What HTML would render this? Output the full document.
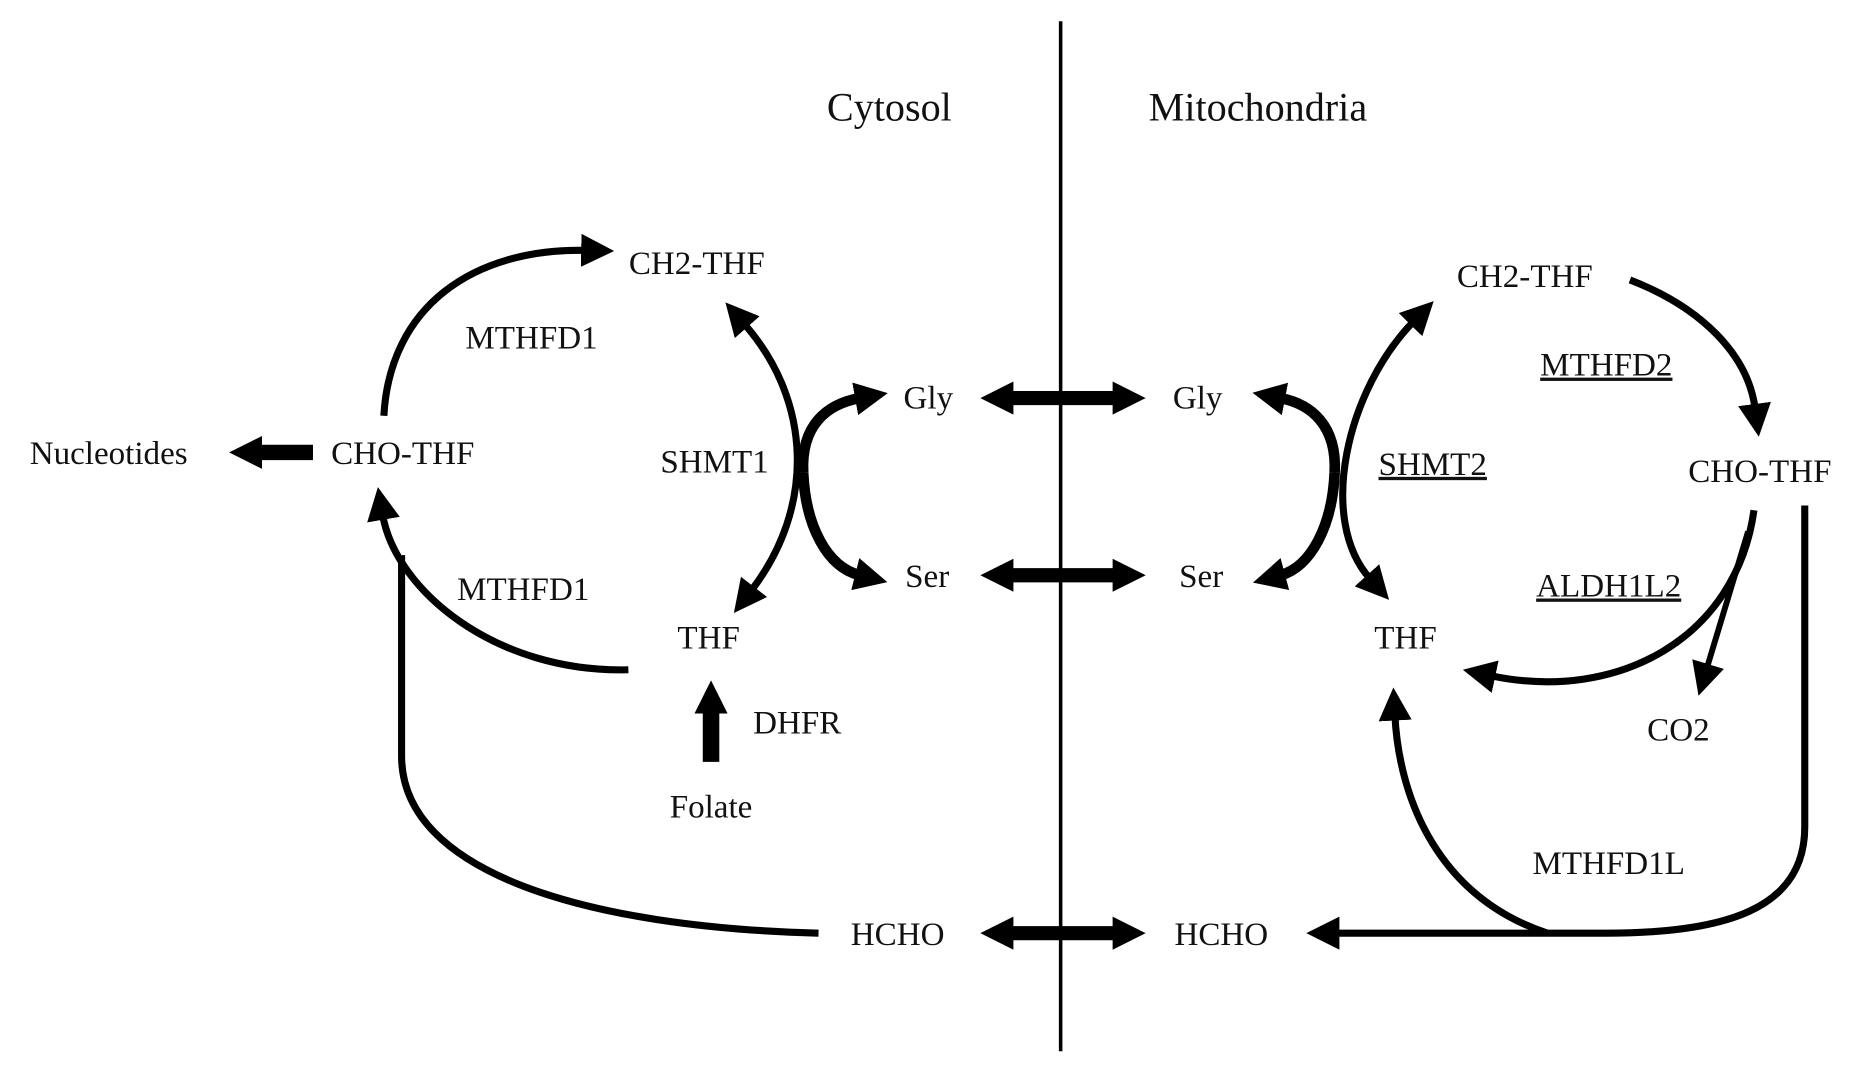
<!DOCTYPE html>
<html><head><meta charset="utf-8"><style>
html,body{margin:0;padding:0;background:#fff;}
svg{display:block;}
text{font-family:"Liberation Serif",serif;font-size:28px;fill:#111;text-anchor:middle;}
.u{text-decoration:underline;}
</style></head><body>
<svg width="1852" height="1069" viewBox="0 0 1568 905" preserveAspectRatio="none">
<defs>
<marker id="a" markerUnits="userSpaceOnUse" markerWidth="34" markerHeight="34" refX="4" refY="14" orient="auto">
<path d="M0,0 L28,14 L0,28 Z" fill="#000"/></marker>
<marker id="s" markerUnits="userSpaceOnUse" markerWidth="34" markerHeight="34" refX="4" refY="14" orient="auto-start-reverse">
<path d="M0,0 L28,14 L0,28 Z" fill="#000"/></marker>
</defs>
<line x1="898" y1="18" x2="898" y2="890" stroke="#000" stroke-width="3"/>
<g fill="none" stroke="#000" stroke-width="6">
<path d="M325,352 C330,260 400,210 496,212" marker-end="url(#a)"/>
<path d="M532,567 C420,570 335,500 324,436" marker-end="url(#a)"/>
<path d="M693,790 C500,785 340,740 340,640 L340,470"/>
<path d="M636,500 C690,430 688,340 630,274" marker-start="url(#s)" marker-end="url(#a)"/>
<path d="M680,400 C678,360 700,342 728,337" stroke-width="9" marker-end="url(#a)"/>
<path d="M680,400 C682,445 700,480 728,487" stroke-width="9" marker-end="url(#a)"/>
<path d="M1380,237 C1440,260 1480,300 1486,346" marker-end="url(#a)"/>
<path d="M1197,272 C1140,330 1115,440 1160,490" marker-start="url(#s)" marker-end="url(#a)"/>
<path d="M1130,400 C1132,360 1110,342 1084,337" stroke-width="9" marker-end="url(#a)"/>
<path d="M1130,400 C1128,445 1110,480 1084,487" stroke-width="9" marker-end="url(#a)"/>
<path d="M1485,432 C1470,540 1370,595 1262,572" marker-end="url(#a)"/>
<path d="M1480,450 L1445,566" stroke-width="5" marker-end="url(#a)"/>
<path d="M1528,428 L1528,700 C1528,770 1460,790 1360,790 L1130,790" marker-end="url(#a)"/>
<path d="M1310,790 C1220,760 1185,680 1181,606" marker-end="url(#a)"/>
<path d="M265,383 L218,383" stroke-width="13" marker-end="url(#a)"/>
<path d="M602,645 L602,600" stroke-width="14" marker-end="url(#a)"/>
<path d="M854,337 L946,337" stroke-width="12" marker-start="url(#s)" marker-end="url(#a)"/>
<path d="M854,487 L946,487" stroke-width="12" marker-start="url(#s)" marker-end="url(#a)"/>
<path d="M854,790 L946,790" stroke-width="12" marker-start="url(#s)" marker-end="url(#a)"/>
</g>
<text x="753" y="102" style="font-size:34px">Cytosol</text>
<text x="1065" y="102" style="font-size:34px">Mitochondria</text>
<text x="590" y="232">CH2-THF</text>
<text x="450" y="295">MTHFD1</text>
<text x="92" y="393">Nucleotides</text>
<text x="341" y="393">CHO-THF</text>
<text x="605" y="400">SHMT1</text>
<text x="786" y="346">Gly</text>
<text x="785" y="497">Ser</text>
<text x="443" y="508">MTHFD1</text>
<text x="600" y="549">THF</text>
<text x="675" y="621">DHFR</text>
<text x="602" y="692">Folate</text>
<text x="760" y="800">HCHO</text>
<text x="1034" y="800">HCHO</text>
<text x="1014" y="346">Gly</text>
<text x="1017" y="497">Ser</text>
<text x="1291" y="243">CH2-THF</text>
<text x="1360" y="318" class="u">MTHFD2</text>
<text x="1213" y="402" class="u">SHMT2</text>
<text x="1490" y="408">CHO-THF</text>
<text x="1362" y="505" class="u">ALDH1L2</text>
<text x="1190" y="549">THF</text>
<text x="1421" y="627">CO2</text>
<text x="1362" y="740">MTHFD1L</text>
</svg>
</body></html>
